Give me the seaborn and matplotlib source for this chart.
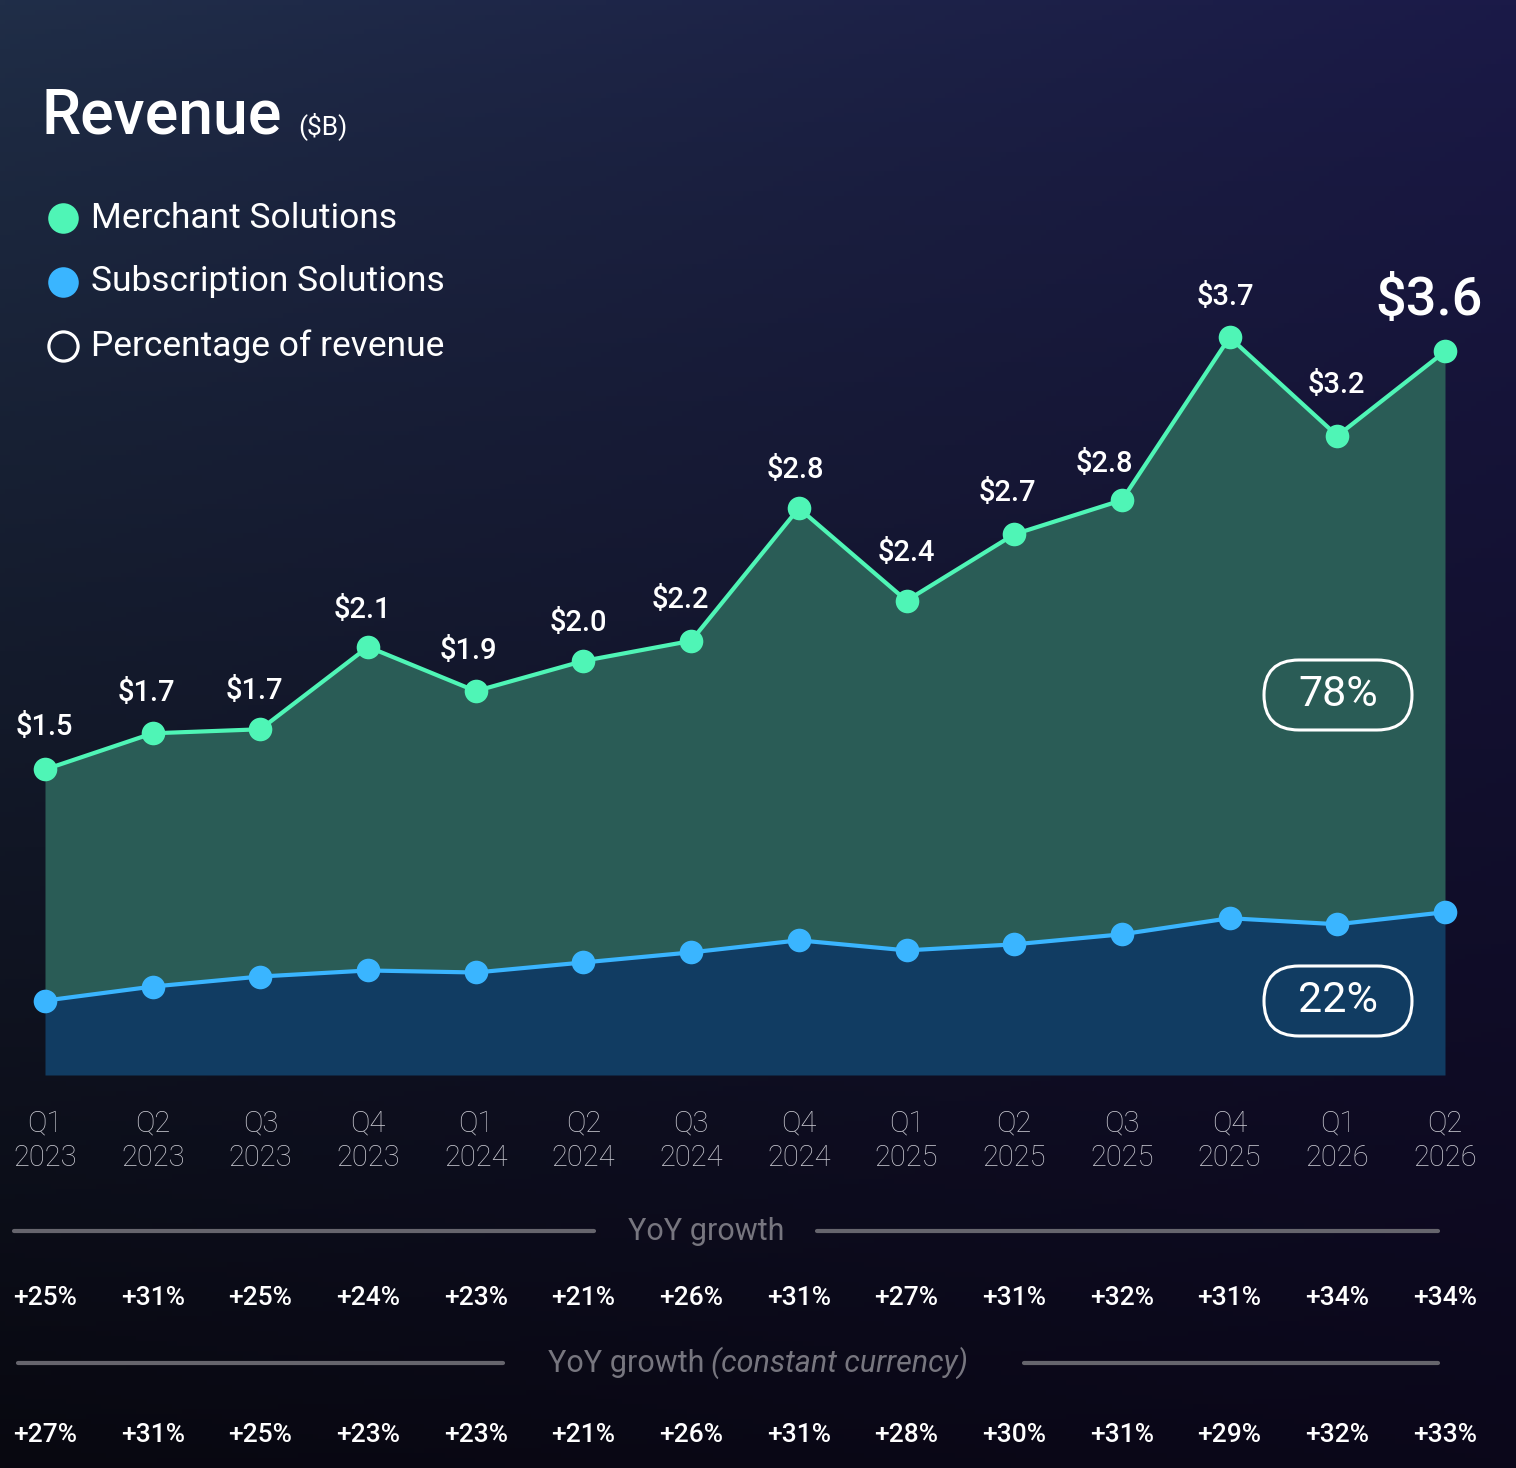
import matplotlib
matplotlib.use("Agg")
import matplotlib.pyplot as plt
from matplotlib.lines import Line2D
from matplotlib.patches import FancyBboxPatch
import seaborn as sns
import numpy as np
import pandas as pd

# datos
quarters = ["Q1\n2023", "Q2\n2023", "Q3\n2023", "Q4\n2023",
            "Q1\n2024", "Q2\n2024", "Q3\n2024", "Q4\n2024",
            "Q1\n2025", "Q2\n2025", "Q3\n2025", "Q4\n2025",
            "Q1\n2026", "Q2\n2026"]
total_rev = [1.52, 1.70, 1.72, 2.13, 1.91, 2.06, 2.16, 2.82, 2.36, 2.69, 2.86, 3.67, 3.18, 3.60]
subscription_rev = [0.37, 0.44, 0.49, 0.52, 0.51, 0.56, 0.61, 0.67, 0.62, 0.65, 0.70, 0.78, 0.75, 0.81]
rev_labels = ["$1.5", "$1.7", "$1.7", "$2.1", "$1.9", "$2.0", "$2.2", "$2.8",
              "$2.4", "$2.7", "$2.8", "$3.7", "$3.2", "$3.6"]
yoy_growth = ["+25%", "+31%", "+25%", "+24%", "+23%", "+21%", "+26%", "+31%",
              "+27%", "+31%", "+32%", "+31%", "+34%", "+34%"]
yoy_cc = ["+27%", "+31%", "+25%", "+23%", "+23%", "+21%", "+26%", "+31%",
          "+28%", "+30%", "+31%", "+29%", "+32%", "+33%"]
legend_names = ["Merchant Solutions", "Subscription Solutions", "Percentage of revenue"]
share_labels = ["78%", "22%"]

# colores
GREEN = "#4ff5b6"
BLUE = "#3ab5ff"
GREEN_FILL = "#2a5c56"
BLUE_FILL = "#113c62"
GRIS = "#cacad2"
GRIS_OSC = "#77767f"

W, H = 1516, 1468


def fx(px):
    return px / W


def fy(py):
    return 1 - py / H


sns.set_theme(style="white")
plt.rcParams["font.family"] = ["Roboto", "DejaVu Sans"]

fig = plt.figure(figsize=(W / 100, H / 100), dpi=100)

# fondo degradado
yy, xx = np.mgrid[0:1:300j, 0:1:300j]
tl = np.array([0x20, 0x2e, 0x48]) / 255
tr = np.array([0x1b, 0x1a, 0x48]) / 255
bl = np.array([0x08, 0x08, 0x10]) / 255
br = np.array([0x0b, 0x07, 0x1a]) / 255
t = (yy ** 0.85)[..., None]
s = xx[..., None]
top = tl * (1 - s) + tr * s
bot = bl * (1 - s) + br * s
grad = top * (1 - t) + bot * t
bg = fig.add_axes([0, 0, 1, 1], zorder=-5)
bg.imshow(grad, aspect="auto", extent=[0, 1, 0, 1])
bg.axis("off")

# eje principal
ax = fig.add_axes([0, fy(1075), 1, 1075 / H])
ax.patch.set_alpha(0)
step = 1400 / 13
ax.set_xlim(-45 / step, 13 + 71 / step)
ax.set_ylim(0, 1075 / 201)

df = pd.DataFrame({"x": range(len(total_rev)), "total": total_rev, "subs": subscription_rev})

ax.fill_between(df["x"], df["subs"], df["total"], color=GREEN_FILL, lw=0, zorder=1)
ax.fill_between(df["x"], 0, df["subs"], color=BLUE_FILL, lw=0, zorder=1)
sns.lineplot(data=df, x="x", y="subs", color=BLUE, lw=3, marker="o", markersize=17,
             markeredgewidth=0, ax=ax, zorder=3)
sns.lineplot(data=df, x="x", y="total", color=GREEN, lw=3, marker="o", markersize=17,
             markeredgewidth=0, ax=ax, zorder=4)

# etiquetas de valores
offs = [(-1, 42), (-6, 40), (-6, 38), (-6, 37), (-7, 40), (-5, 38), (-11, 41), (-3, 38),
        (0, 48), (-7, 41), (-18, 36), (-4, 40), (-1, 51), (-16, 51)]
for i, (v, lab) in enumerate(zip(total_rev, rev_labels)):
    dx, dy = offs[i]
    big = i == len(total_rev) - 1
    ax.annotate(lab, (i, v), xytext=(dx * 0.72, dy * 0.72), textcoords="offset points",
                ha="center", va="center", color="white",
                fontsize=39 if big else 21, fontweight="medium", zorder=6)

ax.set_xticks(df["x"])
ax.set_xticklabels(quarters, fontsize=21, color=GRIS, fontweight="light", linespacing=1.3)
ax.tick_params(axis="x", length=0, pad=25)
ax.set_yticks([])
ax.set_ylabel("")
ax.set_xlabel("")
for sp in ax.spines.values():
    sp.set_visible(False)

# pildoras de porcentaje
for lab, cy in zip(share_labels, [695, 1001]):
    pill = FancyBboxPatch(((1338 - 74) / 100, (H - cy - 35) / 100), 1.48, 0.70,
                          boxstyle="round,pad=0,rounding_size=0.35",
                          transform=fig.dpi_scale_trans, fc="none", ec="white", lw=2.2, zorder=7)
    fig.add_artist(pill)
    fig.text(fx(1338), fy(cy), lab, ha="center", va="center", color="white", fontsize=31)

# titulo
fig.text(fx(42), fy(116), "Revenue", ha="left", va="center", color="white",
         fontsize=45, fontweight="medium")
fig.text(fx(298), fy(126), "($B)", ha="left", va="center", color="white", fontsize=19)

# leyenda
for (nombre, cy, fc) in zip(legend_names, [218, 282, 346], [GREEN, BLUE, "none"]):
    ec = "white" if fc == "none" else fc
    fig.add_artist(Line2D([fx(63)], [fy(cy)], marker="o", ls="", markersize=22 if fc != "none" else 21,
                          mfc=fc, mec=ec, mew=2.3 if fc == "none" else 0,
                          transform=fig.transFigure))
    fig.text(fx(91), fy(cy), nombre, ha="left", va="center", color="white",
             fontsize=25.5, fontweight="normal")

# crecimiento interanual
for (x0, x1), yl in zip([(14, 594), (817, 1438), (18, 503), (1024, 1438)],
                        [1231, 1231, 1363, 1363]):
    fig.add_artist(Line2D([fx(x0), fx(x1)], [fy(yl)] * 2, color="#66656d", lw=3,
                          transform=fig.transFigure))
fig.text(fx(706), fy(1231), "YoY growth", ha="center", va="center", color=GRIS_OSC, fontsize=22)
fig.text(fx(704), fy(1363), "YoY growth", ha="right", va="center", color=GRIS_OSC, fontsize=22)
fig.text(fx(711), fy(1363), "(constant currency)", ha="left", va="center", color=GRIS_OSC,
         fontsize=22, fontstyle="italic")

for i, (g1, g2) in enumerate(zip(yoy_growth, yoy_cc)):
    ax.annotate(g1, (i, 0), xycoords=("data", "figure fraction"),
                xytext=(i, fy(1298)), textcoords=("data", "figure fraction"),
                ha="center", va="center", color="white", fontsize=19, fontweight="medium",
                annotation_clip=False)
    ax.annotate(g2, (i, 0), xycoords=("data", "figure fraction"),
                xytext=(i, fy(1435)), textcoords=("data", "figure fraction"),
                ha="center", va="center", color="white", fontsize=19, fontweight="medium",
                annotation_clip=False)

fig.savefig("out.png", dpi=100)
